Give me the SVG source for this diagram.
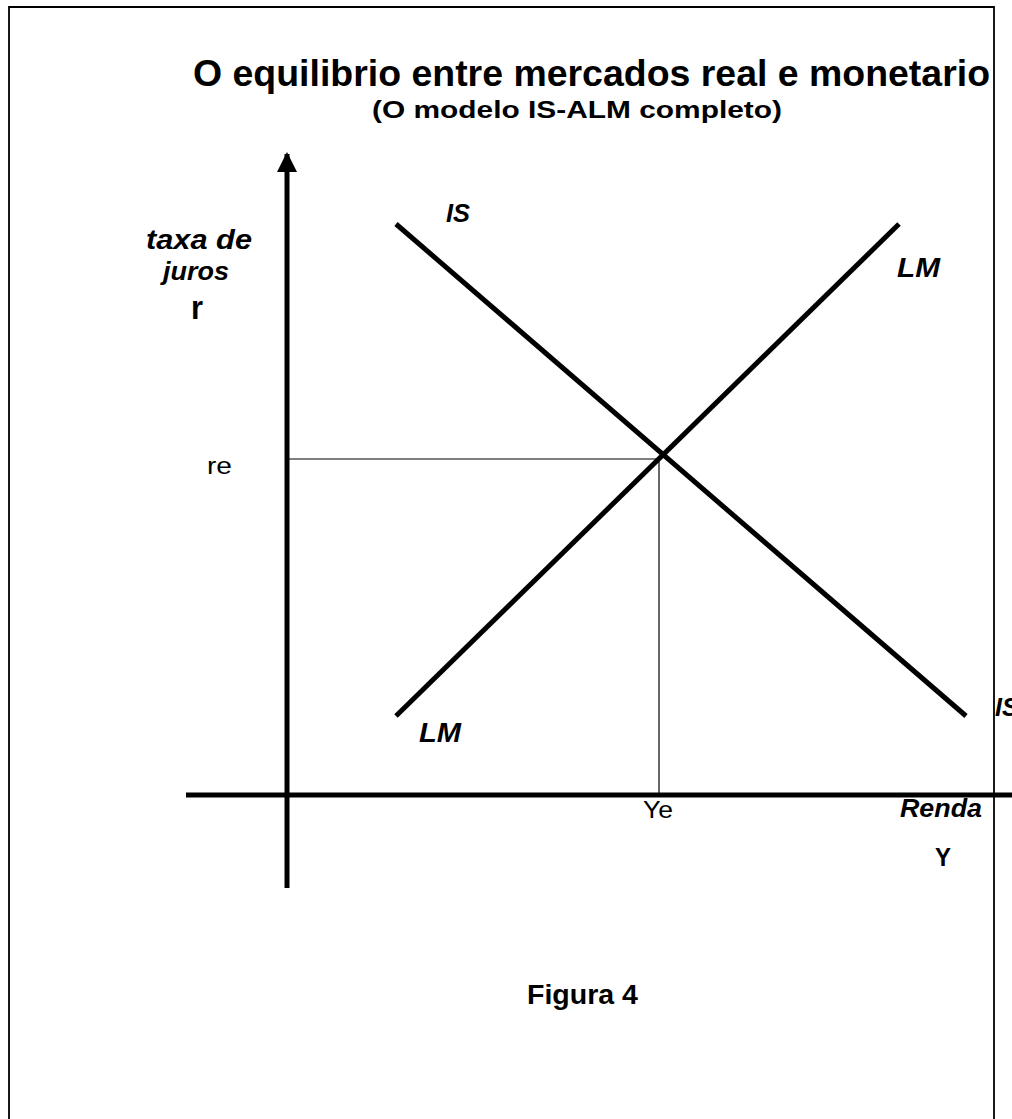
<svg xmlns="http://www.w3.org/2000/svg" width="1012" height="1119" viewBox="0 0 1012 1119">
<defs>
<style>
text{font-family:"Liberation Sans",Arial,sans-serif;fill:#000}
.b{font-weight:bold}
.bi{font-weight:bold;font-style:italic}
.thick{stroke:#000;stroke-width:5;fill:none}
.thin{stroke:#000;stroke-width:1.2;fill:none}
</style>
<marker id="arr" viewBox="0 0 10 10" refX="9" refY="5" markerWidth="4" markerHeight="5" orient="auto" markerUnits="strokeWidth">
<path d="M0,0 L10,5 L0,10 z" fill="#000"/>
</marker>
</defs>
<rect width="1012" height="1119" fill="#fff"/>
<path d="M9,1119 V7 H994 V1119" stroke="#000" stroke-width="1.8" fill="none"/>
<g id="title">
<text x="193" y="86" class="b" font-size="37" textLength="797" lengthAdjust="spacingAndGlyphs">O equilibrio entre mercados real e monetario</text>
<text x="372" y="118" class="b" font-size="23" textLength="410" lengthAdjust="spacingAndGlyphs">(O modelo IS-ALM completo)</text>
</g>
<g id="connectors">
<line x1="287" y1="888" x2="287" y2="154" class="thick" stroke-width="4" marker-end="url(#arr)"/>
<line x1="186" y1="795" x2="1012" y2="795" class="thick" stroke-width="5"/>
<line x1="287" y1="459" x2="659" y2="459" class="thin"/>
<line x1="659" y1="459" x2="659" y2="795" class="thin"/>
</g>
<g id="IS">
<line x1="396" y1="224" x2="966" y2="716" class="thick"/>
<text x="446" y="222" class="bi" font-size="25" textLength="24" lengthAdjust="spacingAndGlyphs">IS</text>
<text x="995" y="716" class="bi" font-size="25">IS</text>
</g>
<g id="LM">
<line x1="396" y1="716" x2="899" y2="224" class="thick"/>
<text x="897" y="277" class="bi" font-size="27" textLength="43" lengthAdjust="spacingAndGlyphs">LM</text>
<text x="419" y="742" class="bi" font-size="27" textLength="42" lengthAdjust="spacingAndGlyphs">LM</text>
</g>
<g id="y-axis-label">
<text x="146" y="249" class="bi" font-size="27" textLength="106" lengthAdjust="spacingAndGlyphs">taxa de</text>
<text x="163" y="280" class="bi" font-size="26" textLength="66" lengthAdjust="spacingAndGlyphs">juros</text>
<text x="191" y="319" class="b" font-size="34" textLength="12" lengthAdjust="spacingAndGlyphs">r</text>
<text x="207" y="474" font-size="24" textLength="25" lengthAdjust="spacingAndGlyphs">re</text>
</g>
<g id="x-axis-label">
<text x="643" y="818" font-size="24" textLength="30" lengthAdjust="spacingAndGlyphs">Ye</text>
<text x="900" y="817" class="bi" font-size="26" textLength="82" lengthAdjust="spacingAndGlyphs">Renda</text>
<text x="935" y="866" class="b" font-size="26" textLength="16" lengthAdjust="spacingAndGlyphs">Y</text>
</g>
<g id="caption">
<text x="527" y="1004" class="b" font-size="27" textLength="111" lengthAdjust="spacingAndGlyphs">Figura 4</text>
</g>
</svg>
